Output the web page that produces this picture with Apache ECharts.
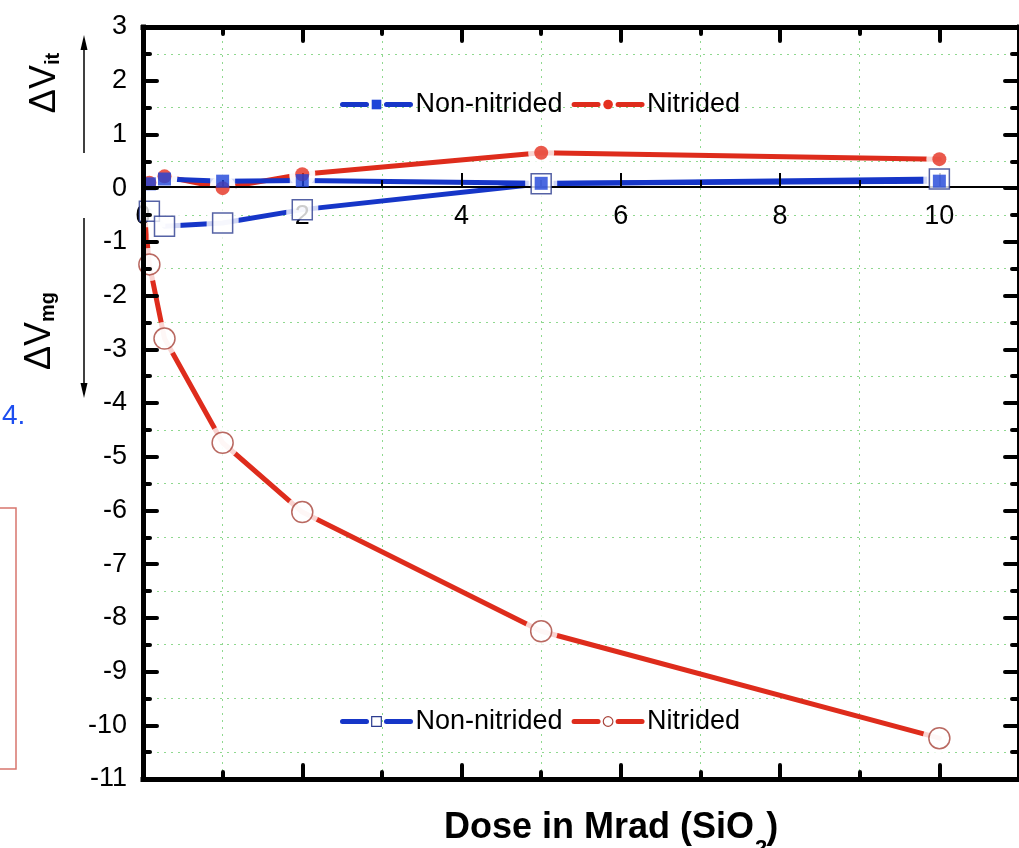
<!DOCTYPE html>
<html>
<head>
<meta charset="utf-8">
<script src="https://cdn.jsdelivr.net/npm/echarts@6/dist/echarts.min.js"></script>
<style>
html,body{margin:0;padding:0;background:#fff;}
#chart{width:1019px;height:848px;}
</style>
</head>
<body>
<div id="chart"></div>
<script>
// ---- data ----
const doses = [0.08, 0.27, 1, 2, 5, 10];                    // Mrad (SiO2)
const vitNonNitrided = [0.08, 0.17, 0.13, 0.14, 0.09, 0.13];  // filled squares
const vitNitrided    = [0.10, 0.22, 0.00, 0.26, 0.66, 0.54];  // filled circles
const vmgNonNitrided = [-0.43, -0.71, -0.65, -0.40, 0.08, 0.17];   // open squares
const vmgNitrided    = [-1.42, -2.80, -4.74, -6.03, -8.25, -10.24]; // open circles
const vmgNitridedLead = [0, -0.2]; // line start hidden under the markers
const xRange = [0, 11];
const yRange = [-11, 3];
const legendTop = ['Non-nitrided', 'Nitrided'];
const legendBottom = ['Non-nitrided\u200b', 'Nitrided\u200b'];

const FONT = "'Liberation Sans', Arial, sans-serif";
const BLUE = '#1636c8', BLUE_M = '#1e44d8', RED = '#de2c1c', RED_M = '#e5301f';
const NAVY = '#2b3b8f', BROWN = '#a8433a', GRID = '#8fd88f';

const pairs = arr => doses.map((d, i) => [d, arr[i]]);

const sets = [
  {name: legendBottom[1], data: [vmgNitridedLead].concat(pairs(vmgNitrided)), mk: pairs(vmgNitrided),
   color: RED, symbol: 'circle', size: 21, item: {color: '#fff', borderColor: BROWN, borderWidth: 1.5}},
  {name: legendBottom[0], data: pairs(vmgNonNitrided), mk: pairs(vmgNonNitrided),
   color: BLUE, symbol: 'rect', size: 20, item: {color: '#fff', borderColor: NAVY, borderWidth: 1.5}},
  {name: legendTop[1], data: pairs(vitNitrided), mk: pairs(vitNitrided),
   color: RED, symbol: 'circle', size: 14, item: {color: RED_M}},
  {name: legendTop[0], data: pairs(vitNonNitrided), mk: pairs(vitNonNitrided),
   color: BLUE, symbol: 'rect', size: 13, item: {color: BLUE_M}}
];

const series = [];
sets.forEach(s => series.push({
  type: 'line', name: s.name, data: s.data, z: 2, showSymbol: false,
  symbol: s.symbol, itemStyle: s.item, clip: false,
  lineStyle: {color: s.color, width: 5, cap: 'round', join: 'round'},
  emphasis: {disabled: true}, silent: true
}));
sets.forEach(s => series.push({
  type: 'scatter', data: s.mk, z: 4, symbol: s.symbol, symbolSize: s.size + 12,
  itemStyle: {color: '#fff'}, clip: false, silent: true
}));
sets.forEach(s => series.push({
  type: 'scatter', data: s.mk, z: 6, symbol: s.symbol, symbolSize: s.size,
  itemStyle: s.item, clip: false, silent: true
}));

const frameTick = {show: true, inside: true, length: 14, lineStyle: {color: '#000', width: 4, cap: 'round'}};
const frameMinor = {show: true, splitNumber: 2, length: 7, lineStyle: {color: '#000', width: 4, cap: 'round'}};
const frameLine = {show: true, onZero: false, lineStyle: {color: '#000', width: 5, cap: 'square'}};
const labelStyle = {color: '#000', fontSize: 27, fontFamily: FONT};
const hidden = {axisLine: {show: false, onZero: false}, axisTick: {show: false}, axisLabel: {show: false}, splitLine: {show: false}};

const xBase = {type: 'value', min: xRange[0], max: xRange[1], interval: 2, splitLine: {show: false}};
const yBase = {type: 'value', min: yRange[0], max: yRange[1], interval: 1, splitLine: {show: false}};

const option = {
  animation: false,
  backgroundColor: '#fff',
  grid: [
    {left: 143, top: 27, width: 887, height: 752, containLabel: false},
    {left: 143, top: 27, width: 887, height: 160, containLabel: false}  // its bottom edge is y = 0 of grid 0
  ],
  xAxis: [
    Object.assign({}, xBase, hidden, {gridIndex: 0, position: 'bottom', z: 0,
      minorTick: {show: false, splitNumber: 2},
      minorSplitLine: {show: true, lineStyle: {color: GRID, width: 1, type: [2, 5]}}}),
    Object.assign({}, xBase, {gridIndex: 0, position: 'bottom', z: 10, axisLine: frameLine,
      axisTick: frameTick, minorTick: frameMinor, axisLabel: {show: false}}),
    Object.assign({}, xBase, {gridIndex: 0, position: 'top', z: 10, axisLine: frameLine,
      axisTick: frameTick, minorTick: frameMinor, axisLabel: {show: false}}),
    Object.assign({}, xBase, {gridIndex: 1, position: 'bottom', z: 5,
      axisLine: {show: true, onZero: false, lineStyle: {color: '#000', width: 2}},
      axisTick: {show: true, inside: true, length: 14, lineStyle: {color: '#000', width: 2}},
      minorTick: {show: true, splitNumber: 2, length: 7, lineStyle: {color: '#000', width: 2}},
      axisLabel: Object.assign({margin: 16, showMaxLabel: false}, labelStyle)})
  ],
  yAxis: [
    Object.assign({}, yBase, {gridIndex: 0, position: 'left', z: 10, axisLine: frameLine,
      axisTick: frameTick, minorTick: frameMinor,
      axisLabel: Object.assign({margin: 16}, labelStyle)}),
    Object.assign({}, yBase, {gridIndex: 0, position: 'right', z: 10, axisLine: frameLine,
      axisTick: frameTick, minorTick: frameMinor, axisLabel: {show: false}}),
    Object.assign({}, yBase, hidden, {gridIndex: 0, position: 'left', z: 0,
      minorTick: {show: false, splitNumber: 2},
      minorSplitLine: {show: true, lineStyle: {color: GRID, width: 1, type: [2, 5]}}}),
    Object.assign({type: 'value', min: 0, max: 1}, hidden, {gridIndex: 1, show: false})
  ],
  legend: [
    {data: legendTop, left: 340, top: 91, orient: 'horizontal', itemWidth: 68, itemHeight: 12,
     itemGap: 9, padding: 0, selectedMode: false, formatter: n => n.replace('\u200b', ''),
     textStyle: labelStyle, lineStyle: {type: [24, 20, 100], width: 5, cap: 'round'},
     itemStyle: {borderWidth: 0}},
    {data: legendBottom, left: 340, top: 708, orient: 'horizontal', itemWidth: 68, itemHeight: 12,
     itemGap: 9, padding: 0, selectedMode: false, formatter: n => n.replace('\u200b', ''),
     textStyle: labelStyle, lineStyle: {type: [24, 20, 100], width: 5, cap: 'round'},
     itemStyle: {borderWidth: 1.2}}
  ],
  graphic: [
    {type: 'text', x: 45, y: 83, rotation: Math.PI / 2, z: 20,
     style: {text: '{a|ΔV}{s|it}', textAlign: 'center', textVerticalAlign: 'middle',
       rich: {a: {fontSize: 36, fontFamily: FONT, lineHeight: 36, verticalAlign: 'top', fill: '#000'},
              s: {fontSize: 20, fontWeight: 'bold', fontFamily: FONT, lineHeight: 20, padding: [27, 0, 0, 0], verticalAlign: 'bottom', fill: '#000'}}}},
    {type: 'text', x: 40, y: 331, rotation: Math.PI / 2, z: 20,
     style: {text: '{a|ΔV}{s|mg}', textAlign: 'center', textVerticalAlign: 'middle',
       rich: {a: {fontSize: 36, fontFamily: FONT, lineHeight: 36, verticalAlign: 'top', fill: '#000'},
              s: {fontSize: 20, fontWeight: 'bold', fontFamily: FONT, lineHeight: 20, padding: [27, 0, 0, 0], verticalAlign: 'bottom', fill: '#000'}}}},
    {type: 'line', z: 20, shape: {x1: 84, y1: 153, x2: 84, y2: 46}, style: {stroke: '#000', lineWidth: 1.5}},
    {type: 'polygon', z: 20, shape: {points: [[84, 35], [80.5, 50], [87.5, 50]]}, style: {fill: '#000'}},
    {type: 'line', z: 20, shape: {x1: 84, y1: 218, x2: 84, y2: 388}, style: {stroke: '#000', lineWidth: 1.5}},
    {type: 'polygon', z: 20, shape: {points: [[84, 398], [80.5, 383], [87.5, 383]]}, style: {fill: '#000'}},
    {type: 'text', x: 2, y: 416, z: 20,
     style: {text: '4.', fontSize: 28, fontFamily: FONT, fill: '#1d4ef0', textVerticalAlign: 'middle'}},
    {type: 'rect', z: 20, shape: {x: -10, y: 508, width: 26, height: 261},
     style: {fill: 'none', stroke: '#d8766d', lineWidth: 1.5}},
    {type: 'text', x: 444, y: 810, z: 20,
     style: {text: '{a|Dose in Mrad (SiO}{g|2}{a|)}',
       rich: {a: {fontSize: 36, fontWeight: 'bold', fontFamily: FONT, lineHeight: 36, fill: '#000'},
              g: {fontSize: 22, fontWeight: 'bold', fontFamily: FONT, lineHeight: 36, fill: 'rgba(0,0,0,0)'}}}},
    {type: 'text', x: 755, y: 838, z: 20,
     style: {text: '2', fontSize: 22, fontWeight: 'bold', fontFamily: FONT, fill: '#000'}}
  ],
  series: series
};

const chart = echarts.init(document.getElementById('chart'), null, {renderer: 'canvas'});
chart.setOption(option);
</script>
</body>
</html>
